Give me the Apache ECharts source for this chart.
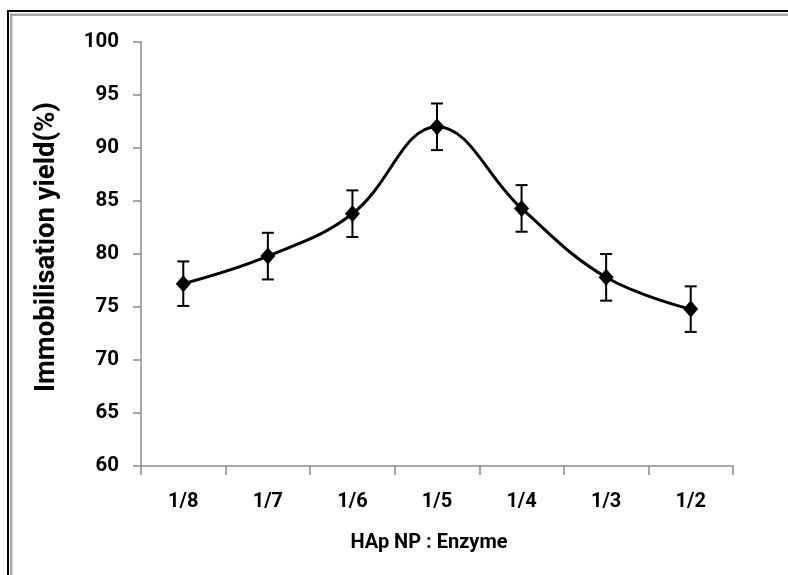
<!DOCTYPE html>
<html>
<head>
<meta charset="utf-8">
<script src="https://cdn.jsdelivr.net/npm/echarts@6/dist/echarts.min.js"></script>
<style>html,body{margin:0;padding:0;background:#fff}#c{width:788px;height:575px}</style>
</head>
<body>
<div id="c"></div>
<script>
var categories = ['1/8', '1/7', '1/6', '1/5', '1/4', '1/3', '1/2'];
var yieldValues = [77.2, 79.8, 83.8, 92.0, 84.3, 77.8, 74.8];
var errorValues = [2.1, 2.2, 2.2, 2.2, 2.2, 2.2, 2.15];
var yTicks = { min: 60, max: 100, interval: 5 };

var errData = categories.map(function (c, i) {
  return [i, yieldValues[i] - errorValues[i], yieldValues[i] + errorValues[i]];
});

var chart = echarts.init(document.getElementById('c'));
var FONT = 'Roboto';
chart.setOption({
  animation: false,
  backgroundColor: '#fff',
  graphic: [
    { type: 'rect', shape: { x: 7, y: 10, width: 781, height: 2 }, style: { fill: '#000' }, silent: true },
    { type: 'rect', shape: { x: 10, y: 13.5, width: 778, height: 2.5 }, style: { fill: '#a8a8a8' }, silent: true },
    { type: 'rect', shape: { x: 7, y: 10, width: 2, height: 565 }, style: { fill: '#000' }, silent: true },
    { type: 'rect', shape: { x: 10, y: 13.5, width: 2.5, height: 562 }, style: { fill: '#a8a8a8' }, silent: true }
  ],
  grid: { left: 141, right: 55, top: 42, bottom: 109, containLabel: false },
  xAxis: {
    type: 'category',
    data: categories,
    boundaryGap: true,
    name: 'HAp NP : Enzyme',
    nameLocation: 'middle',
    nameGap: 67,
    nameTextStyle: { fontFamily: FONT, fontWeight: 'bold', fontSize: 20, color: '#000', padding: [0, 16, 0, 0] },
    axisLine: { lineStyle: { color: '#8c8c8c', width: 1.5 } },
    axisTick: { show: true, length: 9, alignWithLabel: false, lineStyle: { color: '#8c8c8c', width: 1.5 } },
    axisLabel: { margin: 26, fontFamily: FONT, fontWeight: 'bold', fontSize: 20, color: '#000' },
    splitLine: { show: false }
  },
  yAxis: {
    type: 'value',
    min: yTicks.min,
    max: yTicks.max,
    interval: yTicks.interval,
    name: 'Immobilisation yield(%)',
    nameLocation: 'middle',
    nameGap: 80,
    nameTextStyle: { fontFamily: FONT, fontWeight: 'bold', fontSize: 27.5, color: '#000', padding: [0, 0, 0, 14] },
    axisLine: { show: true, lineStyle: { color: '#8c8c8c', width: 1.5 } },
    axisTick: { show: true, length: 8, lineStyle: { color: '#8c8c8c', width: 1.5 } },
    axisLabel: { margin: 22, fontFamily: FONT, fontWeight: 'bold', fontSize: 20.5, color: '#000' },
    splitLine: { show: false }
  },
  series: [
    {
      type: 'line',
      data: yieldValues,
      smooth: 0.4,
      symbol: 'diamond',
      symbolSize: [15, 17],
      itemStyle: { color: '#000' },
      lineStyle: { color: '#000', width: 3 },
      z: 3
    },
    {
      type: 'custom',
      data: errData,
      z: 4,
      renderItem: function (params, api) {
        var x = api.value(0);
        var lo = api.coord([x, api.value(1)]);
        var hi = api.coord([x, api.value(2)]);
        var w = 6;
        var st = { stroke: '#000', lineWidth: 2 };
        return {
          type: 'group',
          children: [
            { type: 'line', shape: { x1: lo[0], y1: lo[1], x2: hi[0], y2: hi[1] }, style: st },
            { type: 'line', shape: { x1: lo[0] - w, y1: lo[1], x2: lo[0] + w, y2: lo[1] }, style: st },
            { type: 'line', shape: { x1: hi[0] - w, y1: hi[1], x2: hi[0] + w, y2: hi[1] }, style: st }
          ]
        };
      }
    }
  ]
});
</script>
</body>
</html>
